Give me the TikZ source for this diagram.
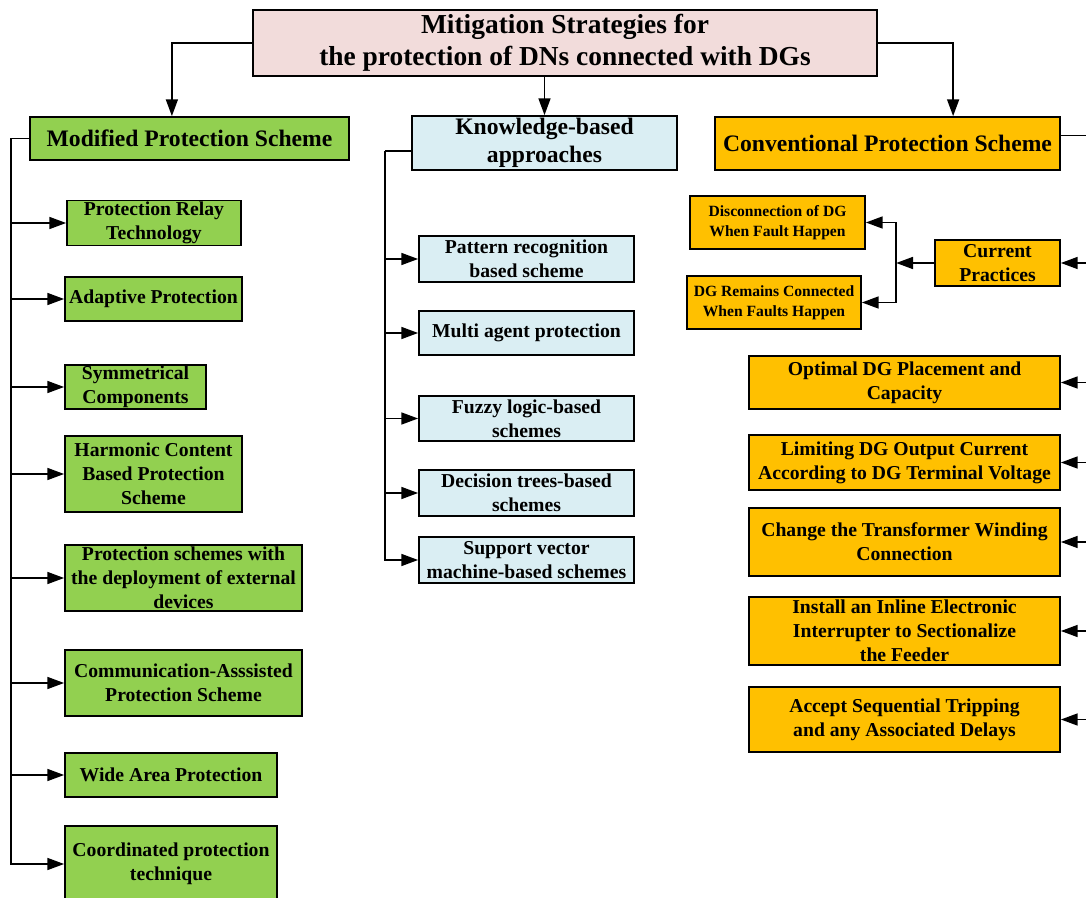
\documentclass[tikz,border=0pt]{standalone}
\usepackage{fontspec}
\setmainfont{Liberation Serif}
\usetikzlibrary{arrows.meta, positioning, shapes}

\definecolor{titlepink}{HTML}{F2DCDB}
\definecolor{modgreen}{HTML}{92D050}
\definecolor{knoblue}{HTML}{DAEEF3}
\definecolor{convorange}{HTML}{FFC000}

\begin{document}
\begin{tikzpicture}[x=0.025cm, y=-0.025cm,
   arr/.style={-{Triangle[length=12pt,width=8.5pt]}, line width=1.3pt},
   link/.style={line width=1.3pt},
   sz/.style 2 args={minimum width=#1*0.025cm, minimum height=#2*0.025cm},
   box/.style={draw, line width=1.2pt, align=center, inner sep=1pt,
               font=\fontsize{14}{17}\selectfont\bfseries},
   gbox/.style={box, fill=modgreen},
   kbox/.style={box, fill=knoblue},
   obox/.style={box, fill=convorange},
   head/.style={font=\fontsize{16.8}{20}\selectfont\bfseries},
   small/.style={font=\fontsize{11.1}{14}\selectfont\bfseries}]

   \path[use as bounding box, clip] (0,0) rectangle (1086,898);

   % Nodes
      \node[box, fill=titlepink, sz={624}{66}, font=\fontsize{19.5}{22.8}\selectfont\bfseries]
            (title) at (565,43) {Mitigation Strategies for\\the protection of DNs connected with DGs};

      \node[gbox, head, sz={319}{43}]  (mod)  at (189.5,138.5) {Modified Protection Scheme};
      \node[kbox, head, sz={265}{54}]  (kno)  at (544.5,143)   {Knowledge-based\\approaches};
      \node[obox, head, sz={345}{53}]  (conv) at (887.5,143.5) {Conventional Protection Scheme};

   % Modified protection scheme
      \node[gbox, sz={174}{44}] (m1) at (154,223)   {Protection Relay\\Technology};
      \node[gbox, sz={177}{44}] (m2) at (153.5,299) {Adaptive Protection};
      \node[gbox, sz={141}{44}] (m3) at (135.5,387) {Symmetrical\\Components};
      \node[gbox, sz={177}{76}] (m4) at (153.5,474) {Harmonic Content\\Based Protection\\Scheme};
      \node[gbox, sz={237}{66}] (m5) at (183.5,578) {Protection schemes with\\the deployment of external\\devices};
      \node[gbox, sz={237}{66}] (m6) at (183.5,683) {Communication-Asssisted\\Protection Scheme};
      \node[gbox, sz={212}{44}] (m7) at (171,775)   {Wide Area Protection};
      \node[gbox, sz={212}{76}] (m8) at (171,864)   {Coordinated protection\\technique};

   % Knowledge-based approaches
      \node[kbox, sz={215}{46}] (k1) at (526.5,259) {Pattern recognition\\based scheme};
      \node[kbox, sz={215}{44}] (k2) at (526.5,333) {Multi agent protection};
      \node[kbox, sz={215}{45}] (k3) at (526.5,418.5) {Fuzzy logic-based\\schemes};
      \node[kbox, sz={215}{46}] (k4) at (526.5,493) {Decision trees-based\\schemes};
      \node[kbox, sz={215}{46}] (k5) at (526.5,560) {Support vector\\machine-based schemes};

   % Conventional protection scheme
      \node[obox, sz={125}{46}] (c0) at (997.5,263) {Current\\Practices};
      \node[obox, small, sz={175}{53}] (c1) at (777.5,222.5) {Disconnection of DG\\When Fault Happen};
      \node[obox, small, sz={174}{53}] (c2) at (774,302.5)   {DG Remains Connected\\When Faults Happen};
      \node[obox, sz={311}{53}] (r1) at (904.5,382.5) {Optimal DG Placement and\\Capacity};
      \node[obox, sz={311}{55}] (r2) at (904.5,462.5) {Limiting DG Output Current\\According to DG Terminal Voltage};
      \node[obox, sz={311}{68}] (r3) at (904.5,542)   {Change the Transformer Winding\\Connection};
      \node[obox, sz={311}{68}] (r4) at (904.5,631)   {Install an Inline Electronic\\Interrupter to Sectionalize\\the Feeder};
      \node[obox, sz={311}{65}] (r5) at (904.5,719.5) {Accept Sequential Tripping\\and any Associated Delays};

   % Paths from the title
      \draw[arr] (title.west) -| ([xshift=-0.44cm]mod.north);
      \draw[arr] (title.south -| kno.north) -- (kno.north);
      \draw[arr] (title.east) -| ([xshift=1.64cm]conv.north);

   % Left bus
      \draw[link] (mod.west) -- ++(-18,0) coordinate (lb);
      \draw[arr] (lb) |- (m1);
      \draw[arr] (lb) |- (m2);
      \draw[arr] (lb) |- (m3);
      \draw[arr] (lb) |- (m4);
      \draw[arr] (lb) |- (m5);
      \draw[arr] (lb) |- (m6);
      \draw[arr] (lb) |- (m7);
      \draw[arr] (lb) |- (m8);

   % Middle bus
      \draw[link] ([yshift=-0.2cm]kno.west) -- ++(-26,0) coordinate (kb);
      \draw[arr] (kb) |- (k1);
      \draw[arr] (kb) |- (k2);
      \draw[arr] (kb) |- (k3);
      \draw[arr] (kb) |- (k4);
      \draw[arr] (kb) |- (k5);

   % Right bus
      \draw[link] ([yshift=0.2cm]conv.east) -- ++(40,0) coordinate (rb);
      \draw[arr] (rb) |- (c0);
      \draw[arr] (rb) |- (r1);
      \draw[arr] (rb) |- (r2);
      \draw[arr] (rb) |- (r3);
      \draw[arr] (rb) |- (r4);
      \draw[arr] (rb) |- (r5);

   % Current practices
      \draw[arr] (c0.west) -- ++(-38,0) coordinate (cb);
      \draw[arr] (cb) |- (c1);
      \draw[arr] (cb) |- (c2);
\end{tikzpicture}
\end{document}
